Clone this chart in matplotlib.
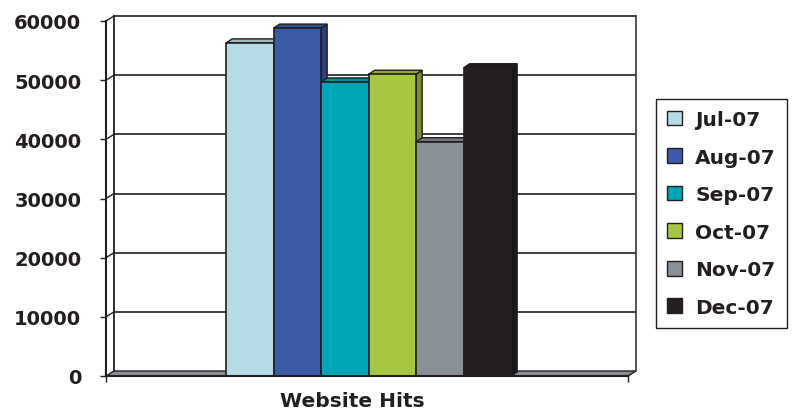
import numpy as np
import matplotlib
matplotlib.use('Agg')
import matplotlib.pyplot as plt
from matplotlib.patches import Polygon, Patch
from matplotlib.colors import to_rgb

months = ['Jul-07', 'Aug-07', 'Sep-07', 'Oct-07', 'Nov-07', 'Dec-07']
hits = [56300, 58800, 49700, 51000, 39600, 52100]
colors = ['#b7dbe6', '#3c5ba6', '#00a6b6', '#a6c73f', '#8a9097', '#231f20']
yticks = [0, 10000, 20000, 30000, 40000, 50000, 60000]

ink = '#231f20'
plt.rcParams['font.family'] = 'DejaVu Sans'
plt.rcParams['font.weight'] = 'bold'


def shade(c, f):
    r, g, b = to_rgb(c)
    return (r * f, g * f, b * f)


fig = plt.figure(figsize=(7.95, 4.14), dpi=100)
ax = fig.add_axes([106 / 795, 37 / 414, 522 / 795, 355 / 414])
x = np.arange(len(hits))
ax.set_xlim(-3.03, 7.96)
ax.set_ylim(0, 60000)
x0, x1 = ax.get_xlim()

# depth offsets given in pixels, turned into data units
inv = ax.transData.inverted()


def depth(px, py):
    a = inv.transform((0, 0))
    b = inv.transform((px, py))
    return b[0] - a[0], b[1] - a[1]


wdx, wdy = depth(8, 5)
bdx, bdy = depth(6, 4)

# floor
ax.add_patch(Polygon([(x0, 0), (x1, 0), (x1 + wdx, wdy), (x0 + wdx, wdy)],
                     closed=True, facecolor='#8a8f96', edgecolor=ink, lw=1,
                     zorder=1, clip_on=False))

# back wall + side wall grid
for y in yticks[1:]:
    ax.plot([x0 + wdx, x1 + wdx], [y + wdy, y + wdy], color=ink, lw=1.2,
            zorder=1.5, clip_on=False)
    ax.plot([x0, x0 + wdx], [y, y + wdy], color=ink, lw=1.0, zorder=1.5,
            clip_on=False)
ax.plot([x0 + wdx, x0 + wdx], [wdy, 60000 + wdy], color=ink, lw=1.3,
        zorder=1.5, clip_on=False)
ax.plot([x1 + wdx, x1 + wdx], [wdy, 60000 + wdy], color='#444444', lw=1.3,
        zorder=1.5, clip_on=False)

# 3d sides and tops of the columns
w = 1.0
for i, h in enumerate(hits):
    xl, xr = x[i] - w / 2, x[i] + w / 2
    ax.add_patch(Polygon([(xr, 0), (xr, h), (xr + bdx, h + bdy), (xr + bdx, bdy)],
                         closed=True, facecolor=shade(colors[i], 0.72),
                         edgecolor=ink, lw=1, zorder=2))
for i, h in enumerate(hits):
    xl, xr = x[i] - w / 2, x[i] + w / 2
    ax.add_patch(Polygon([(xl, h), (xr, h), (xr + bdx, h + bdy), (xl + bdx, h + bdy)],
                         closed=True, facecolor=shade(colors[i], 0.85),
                         edgecolor=ink, lw=1, zorder=3))

ax.bar(x, hits, width=w, color=colors, edgecolor=ink, linewidth=1.2, zorder=4)

for s in ['top', 'right']:
    ax.spines[s].set_visible(False)
for s in ['left', 'bottom']:
    ax.spines[s].set_color(ink)
    ax.spines[s].set_linewidth(1.5)
    ax.spines[s].set_zorder(5)

ax.set_yticks(yticks)
ax.set_yticklabels([str(v) for v in yticks], fontsize=14, fontweight='bold',
                   color=ink)
ax.tick_params(axis='y', length=4.3, width=1, color=ink, pad=13.5)
ax.set_xticks([x0, x1])
ax.set_xticklabels(['', ''])
ax.tick_params(axis='x', length=4.3, width=1, color=ink)

ax.set_xlabel('Website Hits', fontsize=14.5, fontweight='bold', color=ink,
              labelpad=3)
ax.xaxis.label.set_x(0.471)

handles = [Patch(facecolor=c, edgecolor=ink, lw=1) for c in colors]
leg = fig.legend(handles, months, loc='upper left',
                 bbox_to_anchor=(656 / 795, (414 - 100) / 414),
                 borderaxespad=0, frameon=True, fancybox=False,
                 edgecolor=ink, framealpha=1,
                 prop={'weight': 'bold', 'size': 14.5},
                 handlelength=0.75, handleheight=0.75, handletextpad=0.65,
                 labelspacing=0.92, borderpad=0.55)
leg.get_frame().set_linewidth(1)
for t in leg.get_texts():
    t.set_color(ink)

fig.savefig('out.png', dpi=100)
